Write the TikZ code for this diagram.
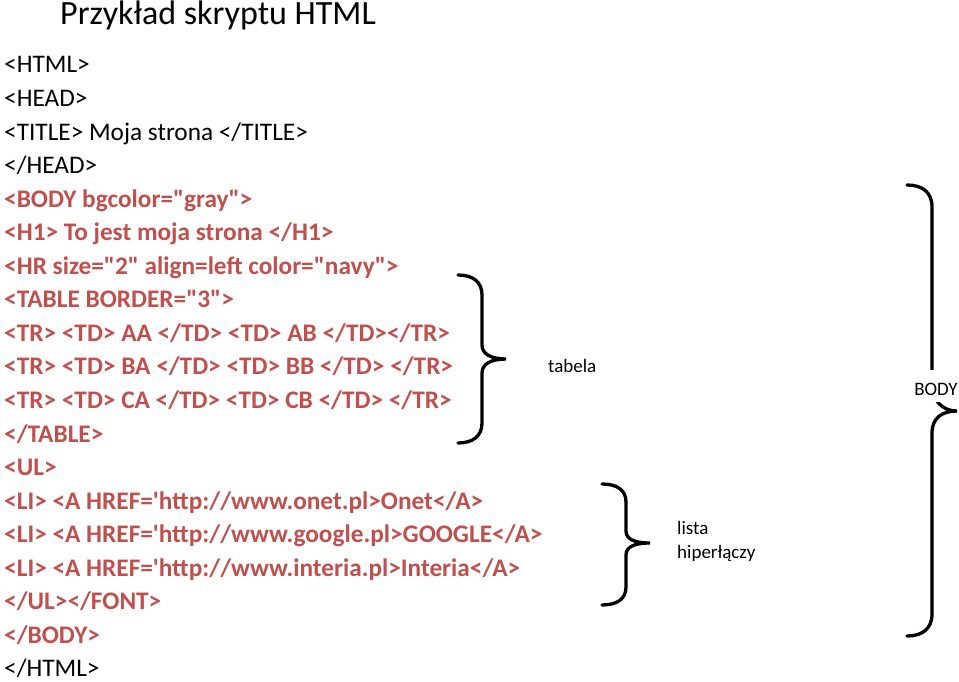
\documentclass[tikz,border=0pt]{standalone}
\usepackage{fontspec}
\setmainfont{Carlito}[Ligatures=TeXOff]
\usepackage{xcolor}
\usepackage{tikz}
\usetikzlibrary{positioning}
\definecolor{tagred}{RGB}{192,80,77}
\tikzstyle{headtag} = [anchor=base west, inner sep=0pt, font=\fontsize{25.3}{29}\selectfont, text=black]
\tikzstyle{bodytag} = [anchor=base west, inner sep=0pt, font=\fontsize{25.3}{29}\selectfont\bfseries, text=tagred]
\tikzstyle{note} = [inner sep=0pt, font=\fontsize{19}{24}\selectfont, align=left]
\tikzstyle{bracestroke} = [line width=3.3pt, line cap=round]
\tikzset{nextof/.style={below=33.55pt of #1.base west, anchor=base west}}

\begin{document}
\begin{tikzpicture}[x=1pt, y=-1pt]
    \useasboundingbox (0,0) rectangle (959,682);
    \node (heading) [anchor=base west, inner sep=0pt, font=\fontsize{34}{38}\selectfont] at (60,25) {Przykład skryptu HTML};

    \node (html) [headtag] at (4,73) {<HTML>};
    \node (head) [headtag, nextof=html] {<HEAD>};
    \node (title) [headtag, nextof=head] {<TITLE> Moja strona </TITLE>};
    \node (headend) [headtag, nextof=title] {</HEAD>};
    \node (body) [bodytag, nextof=headend] {<BODY bgcolor="gray">};
    \node (hone) [bodytag, nextof=body] {<H1> To jest moja strona </H1>};
    \node (hr) [bodytag, nextof=hone] {<HR size="2" align=left color="navy">};
    \node (table) [bodytag, nextof=hr] {<TABLE BORDER="3">};
    \node (rowa) [bodytag, nextof=table] {<TR> <TD> AA </TD> <TD> AB </TD></TR>};
    \node (rowb) [bodytag, nextof=rowa] {<TR> <TD> BA </TD> <TD> BB </TD> </TR>};
    \node (rowc) [bodytag, nextof=rowb] {<TR> <TD> CA </TD> <TD> CB </TD> </TR>};
    \node (tableend) [bodytag, nextof=rowc] {</TABLE>};
    \node (ul) [bodytag, nextof=tableend] {<UL>};
    \node (onet) [bodytag, nextof=ul] {<LI> <A HREF='http://www.onet.pl>Onet</A>};
    \node (google) [bodytag, nextof=onet] {<LI> <A HREF='http://www.google.pl>GOOGLE</A>};
    \node (interia) [bodytag, nextof=google] {<LI> <A HREF='http://www.interia.pl>Interia</A>};
    \node (ulend) [bodytag, nextof=interia] {</UL></FONT>};
    \node (bodyend) [bodytag, nextof=ulend] {</BODY>};
    \node (htmlend) [headtag, nextof=bodyend] {</HTML>};

    % braces
    \draw [bracestroke] (458,275) .. controls (473,275) and (482,282) .. (482,295) -- (482,345)
        .. controls (482,354) and (491,359) .. (506,359) .. controls (491,359) and (482,364) .. (482,373)
        -- (482,423) .. controls (482,436) and (473,443) .. (458,443);
    \draw [bracestroke] (602,484) .. controls (617,484) and (626,490) .. (626,502) -- (626,531)
        .. controls (626,539) and (634,543) .. (650,543) .. controls (634,543) and (626,547) .. (626,555)
        -- (626,587) .. controls (626,599) and (617,605) .. (602,605);
    \draw [bracestroke] (907,185) .. controls (922,185) and (932,192) .. (932,207) -- (932,384)
        .. controls (932,400) and (942,411) .. (957,411) .. controls (942,411) and (932,418) .. (932,433)
        -- (932,614) .. controls (932,629) and (922,636) .. (907,636);

    \node (tabela) [note, anchor=base west] at (548,372) {tabela};
    \node (lista) [note, anchor=west] at (677,541) {lista\\hiperłączy};
    \node (bodylabel) [note, anchor=base, fill=white, inner xsep=3pt, inner ysep=0pt, text height=25pt, text depth=7pt] at (936,395) {BODY};
\end{tikzpicture}
\end{document}
